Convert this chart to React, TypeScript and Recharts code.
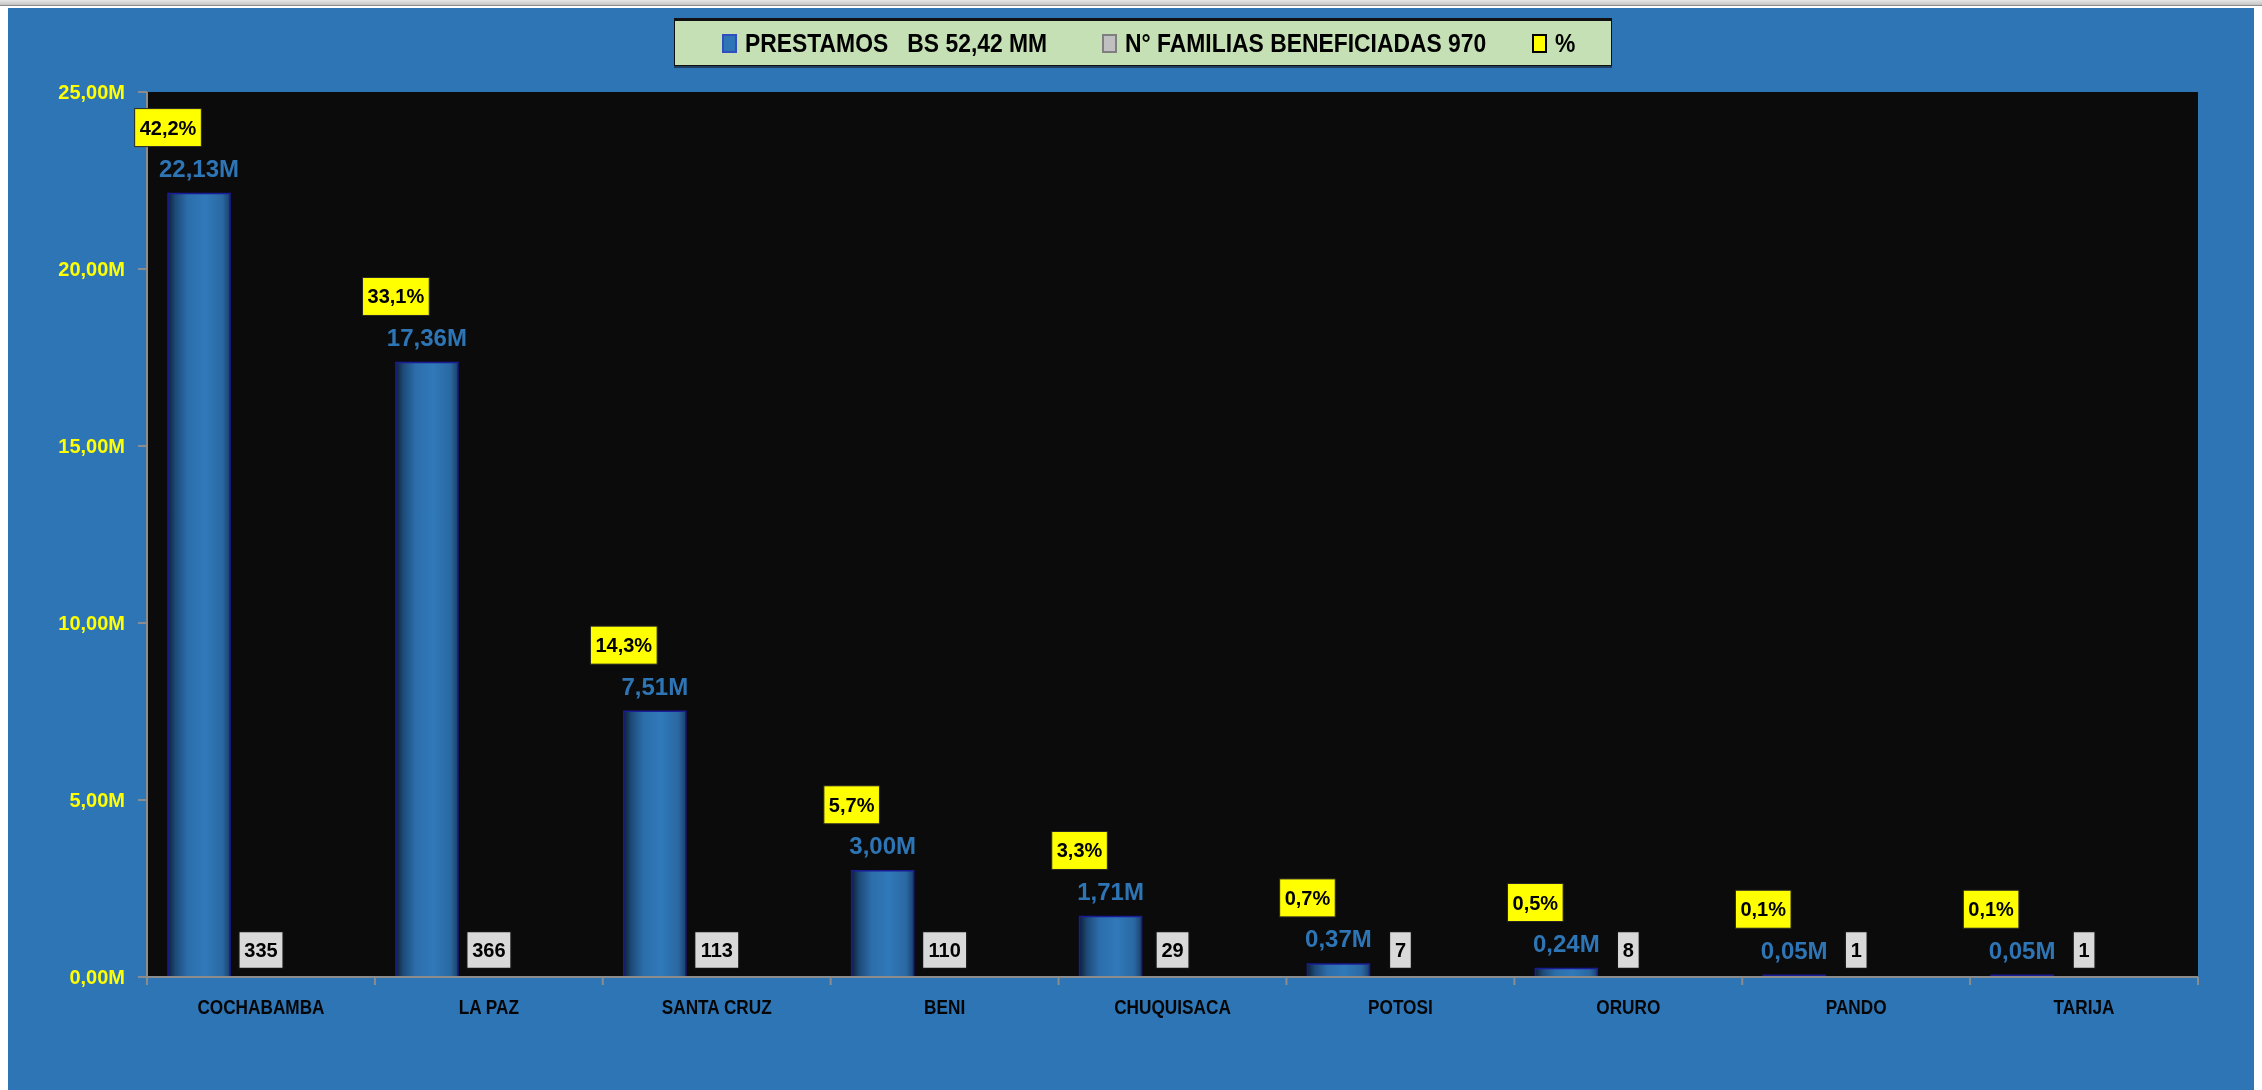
import React from 'react';
import { ComposedChart, Bar, XAxis, YAxis, CartesianGrid, LabelList } from 'recharts';

const departamentos = ['COCHABAMBA', 'LA PAZ', 'SANTA CRUZ', 'BENI', 'CHUQUISACA', 'POTOSI', 'ORURO', 'PANDO', 'TARIJA'];
const prestamos = [22130000, 17360000, 7510000, 3000000, 1710000, 370000, 240000, 50000, 50000];
const familias = [335, 366, 113, 110, 29, 7, 8, 1, 1];
const porcentajes = [42.2, 33.1, 14.3, 5.7, 3.3, 0.7, 0.5, 0.1, 0.1];
const yTicks = [0, 5000000, 10000000, 15000000, 20000000, 25000000];
const seriesNames = ['PRESTAMOS   BS 52,42 MM', 'N° FAMILIAS BENEFICIADAS 970', '%'];

const data = departamentos.map((d, i) => ({
  name: d,
  prestamos: prestamos[i],
  familias: familias[i],
  pct: porcentajes[i],
}));

const W = 2254;
const H = 1084;
const MARGIN = { top: 86, right: 64, bottom: 0, left: 0 };
const Y_W = 139;
const X_H = 113;
const PLOT_W = W - MARGIN.left - MARGIN.right - Y_W;
const BAND = PLOT_W / departamentos.length;

const BG = '#2E75B6';
const ARIAL = "'Liberation Sans', Arial, sans-serif";

const fmtM = (v: number) => (v / 1000000).toFixed(2).replace('.', ',') + 'M';
const fmtPct = (v: number) => v.toFixed(1).replace('.', ',') + '%';

const charW = (s: string, size: number) => {
  let w = 0;
  for (const c of s) {
    if (c === ',' || c === '.') w += 0.278;
    else if (c === '%') w += 0.889;
    else w += 0.556;
  }
  return w * size;
};

const XTick = (props: any) => {
  const { x, y, payload, index } = props;
  const axisY = y - 22;
  return (
    <g>
      <line x1={x - BAND / 2} x2={x - BAND / 2} y1={axisY} y2={axisY + 8} stroke="#8c8c8c" strokeWidth={2} />
      {index === departamentos.length - 1 && (
        <line x1={x + BAND / 2} x2={x + BAND / 2} y1={axisY} y2={axisY + 8} stroke="#8c8c8c" strokeWidth={2} />
      )}
      <text
        x={0}
        y={0}
        transform={`translate(${x},${y + 15}) scale(0.82,1)`}
        textAnchor="middle"
        fill="#050505"
        fontSize={21}
        fontWeight="bold"
        fontFamily={ARIAL}
      >
        {payload.value}
      </text>
    </g>
  );
};

const ValueLabel = (p: any) => {
  const cx = Number(p.x) + Number(p.width) / 2;
  return (
    <text x={cx} y={Number(p.y) - 16.5} textAnchor="middle" fill={BG} fontSize={24} fontWeight="bold" fontFamily={ARIAL}>
      {fmtM(Number(p.value))}
    </text>
  );
};

const PctLabel = (p: any) => {
  const cx = Number(p.x) + Number(p.width) / 2 - 31;
  const cy = Number(p.y) - 66;
  const txt = fmtPct(Number(p.value));
  const bw = charW(txt, 20) + 10;
  const bh = 38;
  return (
    <g>
      <rect x={cx - bw / 2} y={cy - bh / 2} width={bw} height={bh} fill="#FFFF00" stroke="#262626" strokeWidth={1} />
      <text x={cx} y={cy + 7} textAnchor="middle" fill="#000" fontSize={20} fontWeight="bold" fontFamily={ARIAL}>
        {txt}
      </text>
    </g>
  );
};

const FamLabel = (p: any) => {
  const cx = Number(p.x) + Number(p.width) / 2;
  const bottom = Number(p.y) + Number(p.height);
  const cy = bottom - 27;
  const txt = String(p.value);
  const bw = charW(txt, 20) + 11;
  const bh = 37;
  return (
    <g>
      <rect x={cx - bw / 2} y={cy - bh / 2} width={bw} height={bh} fill="#D9D9D9" stroke="#111" strokeWidth={1.5} />
      <text x={cx} y={cy + 7} textAnchor="middle" fill="#000" fontSize={20} fontWeight="bold" fontFamily={ARIAL}>
        {txt}
      </text>
    </g>
  );
};

const legendColors = [
  { fill: '#2E75B6', stroke: '#2F4FC0' },
  { fill: '#C0C0C0', stroke: '#7F7F7F' },
  { fill: '#FFFF00', stroke: '#000000' },
];
const legendLefts = [47, 427, 857];

export default function App() {
  return (
    <div>
      <div
        style={{
          position: 'fixed',
          left: 0,
          top: 0,
          width: 2262,
          height: 5,
          background: 'linear-gradient(#e6e6e6, #c4c4c4)',
          borderBottom: '1px solid #8a8a8a',
        }}
      />
      <div
        style={{
          position: 'relative',
          marginTop: -2,
          width: W,
          height: H,
          background: BG,
          boxShadow: '-1px 0 0 #8c8c8c',
        }}
      >
        <ComposedChart width={W} height={H} data={data} margin={MARGIN} barGap={0} barCategoryGap="9%">
          <defs>
            <linearGradient id="gBar" x1="0" y1="0" x2="1" y2="0">
              <stop offset="0%" stopColor="#0e2238" />
              <stop offset="12%" stopColor="#1d4a78" />
              <stop offset="32%" stopColor="#2c6eab" />
              <stop offset="60%" stopColor="#3079ba" />
              <stop offset="88%" stopColor="#2a68a2" />
              <stop offset="100%" stopColor="#1a416b" />
            </linearGradient>
          </defs>
          <CartesianGrid fill="#0B0B0B" horizontal={false} vertical={false} />
          <XAxis
            dataKey="name"
            height={X_H}
            tickSize={0}
            tickMargin={22}
            tickLine={false}
            axisLine={{ stroke: '#8c8c8c', strokeWidth: 2 }}
            tick={<XTick />}
            interval={0}
          />
          <YAxis
            width={Y_W}
            domain={[0, 25000000]}
            ticks={yTicks}
            tickFormatter={fmtM}
            tickSize={9}
            tickMargin={13}
            tickLine={{ stroke: '#8c8c8c', strokeWidth: 2 }}
            axisLine={{ stroke: '#8c8c8c', strokeWidth: 2 }}
            tick={{ fill: '#FFFF00', fontSize: 20, fontWeight: 'bold', fontFamily: ARIAL }}
          />
          <YAxis
            yAxisId="right"
            orientation="right"
            width={0}
            domain={[0, 25000000]}
            tick={false}
            tickLine={false}
            axisLine={{ stroke: '#5a5a5a', strokeWidth: 2 }}
          />
          <Bar
            dataKey="prestamos"
            name={seriesNames[0]}
            barSize={62}
            fill="url(#gBar)"
            stroke="#1b1b96"
            strokeWidth={1.5}
            isAnimationActive={false}
          >
            <LabelList dataKey="prestamos" content={<ValueLabel />} />
            <LabelList dataKey="pct" content={<PctLabel />} />
          </Bar>
          <Bar dataKey="familias" name={seriesNames[1]} barSize={62} fill="#C0C0C0" isAnimationActive={false}>
            <LabelList dataKey="familias" content={<FamLabel />} />
          </Bar>
          <Bar dataKey="pct" name={seriesNames[2]} barSize={62} fill="#FFFF00" isAnimationActive={false} />
        </ComposedChart>
        <div
          style={{
            position: 'absolute',
            left: 666,
            top: 12,
            width: 938,
            height: 48,
            boxSizing: 'border-box',
            background: '#C5E0B4',
            border: '1px solid #111',
            borderTop: '3px solid #111',
            boxShadow: '0 2px 0 #1f3f60',
          }}
        >
          {seriesNames.map((n, i) => (
            <div
              key={n}
              style={{
                position: 'absolute',
                left: legendLefts[i],
                top: 0,
                bottom: 0,
                display: 'flex',
                alignItems: 'center',
              }}
            >
              <div
                style={{
                  width: 15,
                  height: 19,
                  boxSizing: 'border-box',
                  background: legendColors[i].fill,
                  border: `2px solid ${legendColors[i].stroke}`,
                  marginRight: 8,
                  flex: '0 0 auto',
                }}
              />
              <span
                style={{
                  display: 'inline-block',
                  whiteSpace: 'pre',
                  fontFamily: ARIAL,
                  fontWeight: 'bold',
                  fontSize: 26,
                  color: '#000',
                  lineHeight: 1,
                  transform: 'scaleX(0.88)',
                  transformOrigin: 'left center',
                }}
              >
                {n}
              </span>
            </div>
          ))}
        </div>
      </div>
    </div>
  );
}
